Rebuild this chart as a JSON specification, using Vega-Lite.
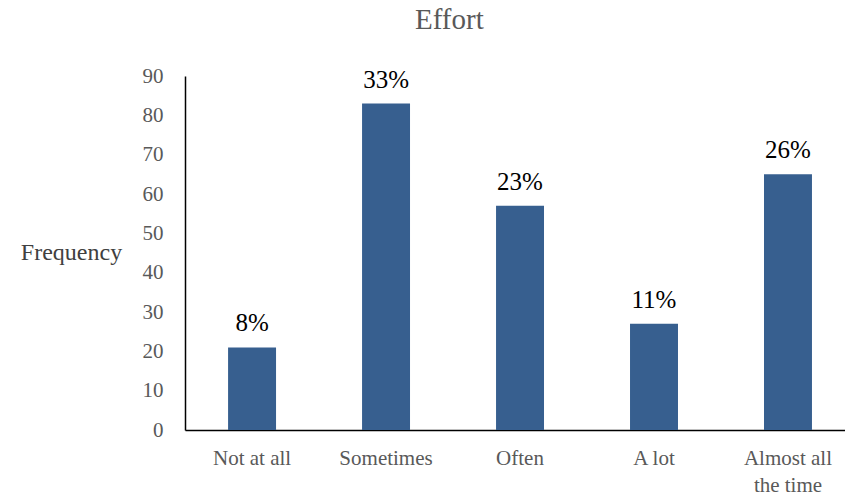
{
  "$schema": "https://vega.github.io/schema/vega-lite/v6.json",
  "autosize": {"type": "none"},
  "width": 660,
  "height": 354,
  "padding": {"left": 185, "top": 76, "right": 0, "bottom": 70},
  "background": "white",
  "title": {
    "text": "Effort",
    "font": "Liberation Serif",
    "fontSize": 29,
    "fontWeight": "normal",
    "color": "#595959",
    "anchor": "start",
    "frame": "group",
    "dx": 230,
    "offset": 30
  },
  "data": {
    "values": [
      {"category": "Not at all", "frequency": 21, "pct": "8%"},
      {"category": "Sometimes", "frequency": 83, "pct": "33%"},
      {"category": "Often", "frequency": 57, "pct": "23%"},
      {"category": "A lot", "frequency": 27, "pct": "11%"},
      {"category": "Almost all the time", "frequency": 65, "pct": "26%"}
    ]
  },
  "encoding": {
    "x": {
      "field": "category",
      "type": "nominal",
      "sort": null,
      "scale": {"paddingInner": 0.642, "paddingOuter": 0.284, "align": 0.566},
      "axis": {
        "title": null,
        "labelAngle": 0,
        "labelFont": "Liberation Serif",
        "labelFontSize": 21,
        "labelColor": "#595959",
        "labelPadding": 28,
        "labelBaseline": "middle",
        "labelLineHeight": 27,
        "labelExpr": "datum.label == 'Almost all the time' ? ['Almost all', 'the time'] : datum.label",
        "ticks": false,
        "domainColor": "#000000",
        "domainWidth": 1.5,
        "grid": false
      }
    },
    "y": {
      "field": "frequency",
      "type": "quantitative",
      "scale": {"domain": [0, 90]},
      "axis": {
        "title": "Frequency",
        "titleAngle": 0,
        "titleFont": "Liberation Serif",
        "titleFontSize": 24,
        "titleFontWeight": "normal",
        "titleColor": "#404040",
        "titleAlign": "center",
        "titleBaseline": "middle",
        "titleX": -114,
        "titleY": 176,
        "values": [0, 10, 20, 30, 40, 50, 60, 70, 80, 90],
        "labelFont": "Liberation Serif",
        "labelFontSize": 21,
        "labelColor": "#595959",
        "labelPadding": 22,
        "ticks": false,
        "domainColor": "#000000",
        "domainWidth": 1.5,
        "grid": false
      }
    }
  },
  "layer": [
    {"mark": {"type": "bar", "color": "#375F8F"}},
    {
      "mark": {
        "type": "text",
        "baseline": "bottom",
        "dy": -11,
        "font": "Liberation Serif, serif",
        "fontSize": 25,
        "color": "#000000"
      },
      "encoding": {"text": {"field": "pct"}}
    }
  ],
  "config": {"view": {"stroke": null}}
}
